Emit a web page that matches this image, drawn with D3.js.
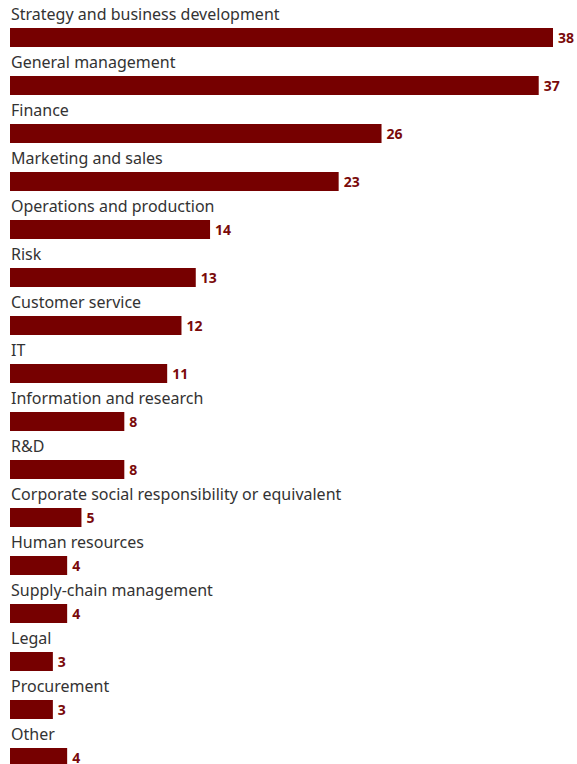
<!DOCTYPE html>
<html><head><meta charset="utf-8">
<script src="https://cdn.jsdelivr.net/npm/d3@7"></script>
<style>body{margin:0;background:#fff;} svg{display:block;}</style>
</head><body>
<script>
const categories = ["Strategy and business development","General management","Finance","Marketing and sales","Operations and production","Risk","Customer service","IT","Information and research","R&D","Corporate social responsibility or equivalent","Human resources","Supply-chain management","Legal","Procurement","Other"];
const values = [38,37,26,23,14,13,12,11,8,8,5,4,4,3,3,4];

const W = 577, H = 764;
const svg = d3.select("body").append("svg").attr("width", W).attr("height", H);
const x = d3.scaleLinear().domain([0, 38]).range([10, 553]);
const y = d3.scaleBand().domain(categories).range([0, 48 * categories.length]).paddingInner(0).paddingOuter(0);
const barTop = 28, barH = 19;
const font = "'Noto Sans', sans-serif";

const g = svg.selectAll("g.row").data(categories).join("g").attr("class", "row")
  .attr("transform", d => `translate(0,${y(d)})`);

g.append("text").attr("x", 11).attr("y", 20)
  .attr("font-family", font).attr("font-size", 16).attr("fill", "#333")
  .text(d => d);

g.append("rect").attr("x", x(0)).attr("y", barTop)
  .attr("width", (d, i) => x(values[i]) - x(0)).attr("height", barH)
  .attr("fill", "#760000");

g.append("text").attr("x", (d, i) => x(values[i]) + 5).attr("y", barTop + barH / 2).attr("dy", "0.36em")
  .attr("font-family", font).attr("font-size", 14).attr("font-weight", "bold").attr("fill", "#7a0a0a")
  .text((d, i) => values[i]);
</script>
</body></html>
